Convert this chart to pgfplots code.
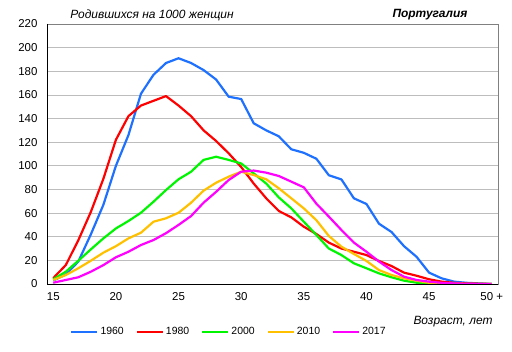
\documentclass[border=0pt]{standalone}
\usepackage{fontspec}
\setmainfont{Liberation Sans}
\usepackage{pgfplots}
\usepackage{pgfplotstable}
\pgfplotsset{compat=1.18}
\definecolor{cblue}{RGB}{30,112,255}
\definecolor{cred}{RGB}{255,0,0}
\definecolor{cgreen}{RGB}{0,245,0}
\definecolor{cyellow}{RGB}{255,192,0}
\definecolor{cmag}{RGB}{255,0,255}
\pgfplotstableread{
age y1960 y1980 y2000 y2010 y2017
15 3 5 4 3.4 1.1
16 8 16 10.4 7.6 3.4
17 19 37 19.7 13.3 5.7
18 42 61 29.3 19.7 10.4
19 67 89 38.6 26.5 16
20 100 122 47 32 22.6
21 126 142 53.3 38.6 27.3
22 161 151 60.3 43.4 33
23 177 155 69.6 52.7 37.2
24 187 159 79.5 55.6 43
25 191 151 88.6 60.3 50
26 187 142 95 68.8 57.5
27 181 130 105 79 68.8
28 173 121 107.7 85.7 78
29 158.5 110.6 105 90.8 88
30 156.5 99 102 95 95
31 136 85 93.6 92.2 96
32 130 72.5 85 88.6 94.2
33 125 61.8 73.3 81 91.4
34 114 56.4 64 72.5 86.6
35 111 48.5 52.7 64 81.8
36 106 42.3 41.5 54 68
37 92 35 30 40.6 57
38 88.5 30 24.5 31.6 45.7
39 72.5 27.3 17.5 25.4 35
40 67.7 24.5 13.3 19.5 27.3
41 51 19.5 9 11.8 19
42 44 15.2 5.7 7.6 11.8
43 32 9.6 2.8 4.8 6.2
44 23 7 1.1 2.8 3.4
45 9.6 4 0.5 1 2
46 4.8 2 0.2 0.5 1
47 2 1 0.1 0.2 0.5
48 1 0.5 0 0.1 0.2
49 0.5 0.3 0 0 0.1
50 0 0 0 0 0
}\births
\begin{document}
\begin{tikzpicture}
\path[use as bounding box] (-47bp,-68bp) rectangle (465bp,284bp);
\begin{axis}[
  at={(0,0)}, anchor=south west,
  scale only axis, width=451bp, height=260bp,
  xmin=14.5, xmax=50.5, ymin=0, ymax=220,
  xtick={15,20,25,30,35,40,45,50},
  xticklabels={15,20,25,30,35,40,45,{50 +}},
  ytick={0,20,...,220},
  major tick length=0pt,
  ymajorgrids,
  grid style={color=black!26, line width=0.8pt},
  axis line style={color=black!50, line width=0.8pt},
  /pgf/number format/assume math mode=true,
  tick label style={font=\fontsize{11.5}{13}\selectfont},
  xticklabel style={yshift=-5bp},
  yticklabel style={xshift=-6bp},
  legend columns=5,
  legend style={at={(0.4035,-0.1846)}, anchor=center, draw=none, fill=none,
    font=\fontsize{10.5}{12}\selectfont,
    /tikz/every even column/.append style={column sep=10bp}},
  legend image code/.code={\draw[#1] (0bp,0bp) -- (26bp,0bp);},
  every axis plot/.append style={line width=2.2pt, line join=round},
]
\addplot[cblue] table[x=age, y=y1960] {\births};
\addplot[cred] table[x=age, y=y1980] {\births};
\addplot[cgreen] table[x=age, y=y2000] {\births};
\addplot[cyellow] table[x=age, y=y2010] {\births};
\addplot[cmag] table[x=age, y=y2017] {\births};
\legend{1960,1980,2000,2010,2017}
\draw[black, line width=1pt] (rel axis cs:0,1) -- (rel axis cs:0,0) -- (rel axis cs:1,0);
\end{axis}
\node[font=\itshape\fontsize{12}{14}\selectfont] at (105bp,269bp) {Родившихся на 1000 женщин};
\node[font=\bfseries\itshape\fontsize{12}{14}\selectfont, anchor=east] at (424bp,269bp) {Португалия};
\node[font=\itshape\fontsize{12}{14}\selectfont] at (406bp,-38bp) {Возраст, лет};
\end{tikzpicture}
\end{document}
